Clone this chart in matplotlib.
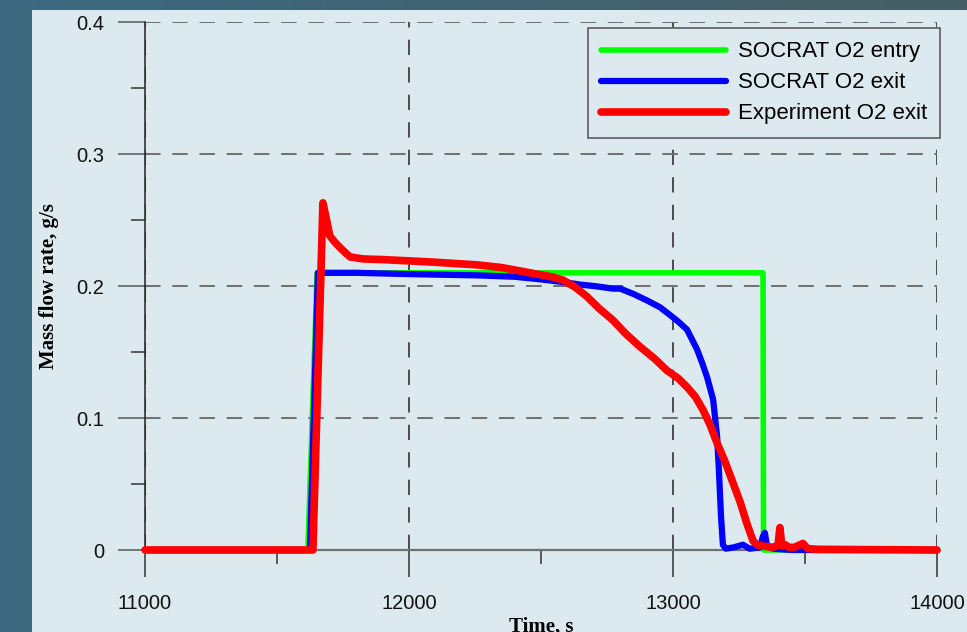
import numpy as np
import matplotlib
matplotlib.use("Agg")
import matplotlib.pyplot as plt
from matplotlib.patches import Rectangle

# SOCRAT O2 entry
t_entry = [11000, 11617, 11652, 13341, 13343, 14000]
m_entry = [0, 0, 0.21, 0.21, 0, 0]

# SOCRAT O2 exit
t_exit = [11000, 11625, 11655, 11800, 12000, 12269, 12400, 12500, 12583, 12650,
          12700, 12773, 12800, 12850, 12902, 12950, 12989, 13020, 13053, 13091,
          13110, 13129, 13152, 13167, 13174, 13182, 13189, 13200, 13230, 13265,
          13290, 13330, 13340, 13348, 13356, 13380, 13450, 14000]
m_exit = [0, 0, 0.21, 0.21, 0.209, 0.208, 0.207, 0.205, 0.203, 0.201,
          0.200, 0.198, 0.198, 0.194, 0.189, 0.184, 0.178, 0.173, 0.167, 0.152,
          0.142, 0.131, 0.114, 0.086, 0.060, 0.025, 0.004, 0.001, 0.002, 0.004,
          0.001, 0.002, 0.010, 0.013, 0.003, 0.001, 0.0, 0.0]

# Experiment O2 exit
t_exp = [11000, 11636, 11674, 11690, 11700, 11720, 11739, 11760, 11777, 11826,
         11900, 12004, 12100, 12258, 12350, 12458, 12540, 12583, 12630, 12674,
         12720, 12773, 12820, 12875, 12930, 12977, 13020, 13053, 13085, 13114,
         13140, 13167, 13197, 13227, 13255, 13280, 13303, 13318, 13340, 13380,
         13398, 13405, 13412, 13425, 13440, 13460, 13492, 13510, 13550, 14000]
m_exp = [0, 0, 0.263, 0.248, 0.238, 0.233, 0.229, 0.225, 0.222, 0.2205,
         0.220, 0.219, 0.218, 0.216, 0.214, 0.210, 0.207, 0.2045, 0.199, 0.192,
         0.183, 0.174, 0.164, 0.154, 0.145, 0.136, 0.130, 0.1235, 0.116, 0.106,
         0.095, 0.081, 0.067, 0.051, 0.036, 0.020, 0.007, 0.004, 0.003, 0.002,
         0.004, 0.017, 0.003, 0.004, 0.002, 0.002, 0.005, 0.001, 0.0005, 0]

x_ticks = [11000, 12000, 13000, 14000]
y_ticks = [0, 0.1, 0.2, 0.3, 0.4]
y_labels = ["0", "0.1", "0.2", "0.3", "0.4"]

panel = "#dce9ee"
sans = ["Liberation Sans", "DejaVu Sans"]
serif = ["Liberation Serif", "DejaVu Serif"]

fig = plt.figure(figsize=(9.67, 6.32), dpi=100)

# slide background with gradient + light panel
bg = fig.add_axes([0, 0, 1, 1], zorder=-10)
grad = np.linspace(0, 1, 256).reshape(1, -1)
left_c = np.array([0x3d, 0x6a, 0x82]) / 255
right_c = np.array([0x46, 0x5e, 0x64]) / 255
img = left_c[None, None, :] * (1 - grad[..., None]) + right_c[None, None, :] * grad[..., None]
bg.imshow(img, aspect="auto", extent=[0, 1, 0, 1])
bg.add_patch(Rectangle((32 / 967, 0), 1, 1 - 10 / 632, facecolor=panel, edgecolor="none"))
bg.set_xlim(0, 1)
bg.set_ylim(0, 1)
bg.axis("off")

ax = fig.add_axes([145 / 967, 1 - 550 / 632, 792 / 967, 528 / 632])
ax.patch.set_visible(False)

ax.plot(t_entry, m_entry, color="#00ff00", lw=4, label="SOCRAT O2 entry",
        clip_on=False, solid_capstyle="round", zorder=3)
ax.plot(t_exit, m_exit, color="#0000ff", lw=4.5, label="SOCRAT O2 exit",
        clip_on=False, solid_capstyle="round", zorder=4)
ax.plot(t_exp, m_exp, color="#ff0000", lw=5.5, label="Experiment O2 exit",
        clip_on=False, solid_capstyle="round", zorder=5)

ax.set_xlim(11000, 14000)
ax.set_ylim(0, 0.4)
ax.set_xticks(x_ticks)
ax.set_xticks([11500, 12500, 13500], minor=True)
ax.set_yticks(y_ticks)
ax.set_yticklabels(y_labels)
ax.set_yticks([0.05, 0.15, 0.25, 0.35], minor=True)

ax.tick_params(axis="both", which="major", direction="out", length=19.5, width=1.1,
               color="#333333", labelsize=14.5, labelcolor="#111111")
ax.tick_params(axis="both", which="minor", direction="out", length=10, width=1.1,
               color="#333333")
ax.tick_params(axis="x", which="major", pad=12)
ax.tick_params(axis="y", which="major", pad=10, color="#555555")
for lab in ax.get_xticklabels() + ax.get_yticklabels():
    lab.set_family(sans)

for s in ["top", "right"]:
    ax.spines[s].set_visible(False)
ax.spines["left"].set_color("#222222")
ax.spines["left"].set_linewidth(1.1)
ax.spines["bottom"].set_color("#707070")
ax.spines["bottom"].set_linewidth(1.6)

ax.grid(axis="y", which="major", color="#6e6e6e", lw=1.4, dashes=(8, 6))
ax.grid(axis="x", which="major", color="#222222", lw=1.1, dashes=(10, 8))

ax.set_ylabel("Mass flow rate, g/s", family=serif, fontweight="bold", fontsize=15,
              labelpad=12)
ax.set_xlabel("Time, s", family=serif, fontweight="bold", fontsize=15, labelpad=3)

leg = ax.legend(loc="upper right", bbox_to_anchor=(1.004, 0.9886), borderaxespad=0,
                prop={"family": sans, "size": 16}, handlelength=5.65,
                handletextpad=0.5, labelspacing=0.45, borderpad=0.6,
                fancybox=False, framealpha=1, facecolor=panel, edgecolor="#666666")
leg.get_frame().set_linewidth(1.3)

fig.savefig("out.png", dpi=100, facecolor=fig.get_facecolor())
